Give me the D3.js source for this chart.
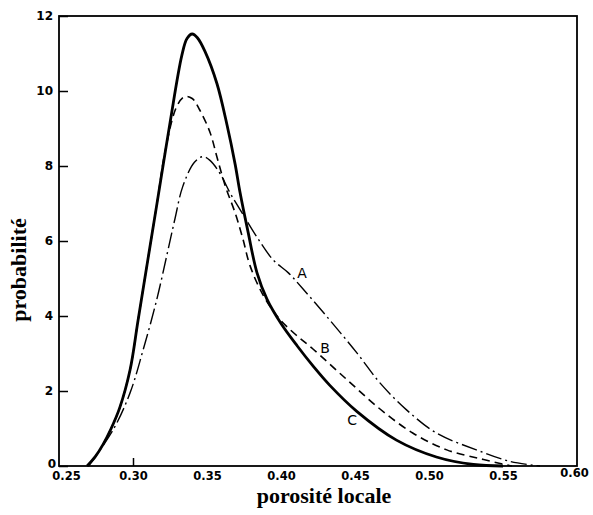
<!DOCTYPE html>
<html>
<head>
<meta charset="utf-8">
<script src="https://cdn.jsdelivr.net/npm/d3@7"></script>
<style>
  html, body { margin: 0; padding: 0; background: #fff; }
  svg { display: block; }
</style>
</head>
<body>
<svg id="chart" width="593" height="515"></svg>
<script>
// ---- data ----
const xTicks = [0.25, 0.30, 0.35, 0.40, 0.45, 0.50, 0.55, 0.60];
const xTickLabels = ["0.25", "0.30", "0.35", "0.40", "0.45", "0.50", "0.55", "0.60"];
const yTicks = [0, 2, 4, 6, 8, 10, 12];

const curveC_x = [0.269, 0.2745, 0.2797, 0.285, 0.291, 0.298, 0.3034, 0.3095, 0.316, 0.325, 0.333, 0.3365, 0.340, 0.3435, 0.3487, 0.3567, 0.3635, 0.369, 0.3723, 0.3777, 0.3838, 0.3905, 0.400, 0.411, 0.422, 0.433, 0.4514, 0.478, 0.505, 0.53, 0.55];
const curveC_y = [0, 0.25, 0.57, 0.98, 1.55, 2.56, 3.88, 5.37, 6.95, 9.15, 10.95, 11.4, 11.52, 11.42, 11.05, 10.2, 9.1, 8.05, 7.3, 6.25, 5.15, 4.45, 3.8, 3.2, 2.65, 2.15, 1.45, 0.69, 0.24, 0.04, 0];

const curveB_x = [0.269, 0.2745, 0.2797, 0.285, 0.291, 0.298, 0.3034, 0.3095, 0.316, 0.322, 0.3297, 0.335, 0.340, 0.345, 0.352, 0.357, 0.3625, 0.369, 0.3743, 0.379, 0.388, 0.399, 0.410, 0.4216, 0.4446, 0.4669, 0.489, 0.512, 0.534, 0.55, 0.556];
const curveB_y = [0, 0.25, 0.57, 0.98, 1.55, 2.56, 3.88, 5.37, 6.95, 8.45, 9.6, 9.85, 9.8, 9.5, 8.9, 8.2, 7.45, 6.75, 6.05, 5.35, 4.55, 3.92, 3.5, 3.12, 2.3, 1.52, 0.88, 0.43, 0.2, 0.05, 0];

const curveA_x = [0.270, 0.2865, 0.298, 0.3068, 0.316, 0.3236, 0.3284, 0.3336, 0.3415, 0.3473, 0.352, 0.3588, 0.3656, 0.3737, 0.3838, 0.3946, 0.405, 0.4149, 0.433, 0.4514, 0.467, 0.485, 0.505, 0.532, 0.555, 0.575];
const curveA_y = [0, 0.96, 1.95, 3.09, 4.43, 5.75, 6.6, 7.45, 8.1, 8.25, 8.15, 7.8, 7.28, 6.75, 6.1, 5.5, 5.15, 4.72, 3.89, 3.01, 2.21, 1.49, 0.88, 0.43, 0.12, 0];

const curveNames = ["A", "B", "C"];
const labelX = [0.4142, 0.4297, 0.448];
const labelY = [5.15, 3.15, 1.23];

const xTitle = "porosité locale";
const yTitle = "probabilité";

// ---- layout ----
const svg = d3.select("#chart");
const L = 59, R = 577, T = 16, B = 466;

const x = d3.scaleLinear().domain([0.25, 0.60]).range([L, R]);
const y = d3.scaleLinear().domain([0, 12]).range([B, T]);

// frame
svg.append("rect")
  .attr("x", L).attr("y", T).attr("width", R - L).attr("height", B - T)
  .attr("fill", "none").attr("stroke", "#000").attr("stroke-width", 1.8);

// y axis (ticks inward)
const yAxis = d3.axisLeft(y).tickValues(yTicks).tickSize(-9).tickPadding(6).tickFormat(d3.format("d"));
const gy = svg.append("g").attr("transform", `translate(${L},0)`).call(yAxis);
gy.select(".domain").remove();
gy.selectAll(".tick line").attr("stroke", "#000").attr("stroke-width", 1.5);
gy.selectAll(".tick text")
  .attr("font-family", "'DejaVu Sans', sans-serif")
  .attr("font-size", 12).attr("font-weight", "bold").attr("fill", "#000");
gy.selectAll(".tick").filter(d => d === 0).select("text").attr("dy", "0.1em").attr("x", -3);

// x axis labels
const xAxis = d3.axisBottom(x).tickValues(xTicks).tickSize(0).tickPadding(6)
  .tickFormat((d, i) => xTickLabels[i]);
const gx = svg.append("g").attr("transform", `translate(0,${B})`).call(xAxis);
gx.select(".domain").remove();
gx.selectAll(".tick text")
  .attr("font-family", "'DejaVu Sans', sans-serif")
  .attr("font-size", 11.5).attr("font-weight", "bold").attr("fill", "#000");
gx.selectAll(".tick").filter(d => d === 0.25).select("text").attr("x", 7);
gx.selectAll(".tick").filter(d => d === 0.60).select("text").attr("x", -3).attr("y", 3);

// the one visible inward x tick
const gx2 = svg.append("g").attr("transform", `translate(0,${B})`)
  .call(d3.axisBottom(x).tickValues([0.30]).tickSize(-8).tickFormat(""));
gx2.select(".domain").remove();
gx2.selectAll(".tick line").attr("stroke", "#000").attr("stroke-width", 1.5);

// curves
const line = d3.line().x(d => x(d[0])).y(d => y(d[1])).curve(d3.curveCatmullRom.alpha(0.5));
const zip = (xs, ys) => xs.map((v, i) => [v, ys[i]]);

svg.append("path").datum(zip(curveA_x, curveA_y)).attr("d", line)
  .attr("fill", "none").attr("stroke", "#000").attr("stroke-width", 1.4)
  .attr("stroke-dasharray", "16,4,2,4");
svg.append("path").datum(zip(curveB_x, curveB_y)).attr("d", line)
  .attr("fill", "none").attr("stroke", "#000").attr("stroke-width", 1.6)
  .attr("stroke-dasharray", "8,5");
svg.append("path").datum(zip(curveC_x, curveC_y)).attr("d", line)
  .attr("fill", "none").attr("stroke", "#000").attr("stroke-width", 2.8);

// curve labels
svg.selectAll("text.clabel").data(curveNames).enter().append("text")
  .attr("class", "clabel")
  .attr("x", (d, i) => x(labelX[i])).attr("y", (d, i) => y(labelY[i]))
  .attr("text-anchor", "middle").attr("dominant-baseline", "central")
  .attr("font-family", "'DejaVu Sans', sans-serif").attr("font-size", 14)
  .attr("fill", "#000").text(d => d);

// axis titles
svg.append("text").attr("x", 324).attr("y", 503).attr("text-anchor", "middle")
  .attr("font-family", "'Liberation Serif', serif").attr("font-size", 22).attr("font-weight", "bold")
  .attr("fill", "#000").text(xTitle);
svg.append("text").attr("transform", "translate(26,270) rotate(-90)").attr("text-anchor", "middle")
  .attr("font-family", "'Liberation Serif', serif").attr("font-size", 22).attr("font-weight", "bold")
  .attr("fill", "#000").text(yTitle);
</script>
</body>
</html>
